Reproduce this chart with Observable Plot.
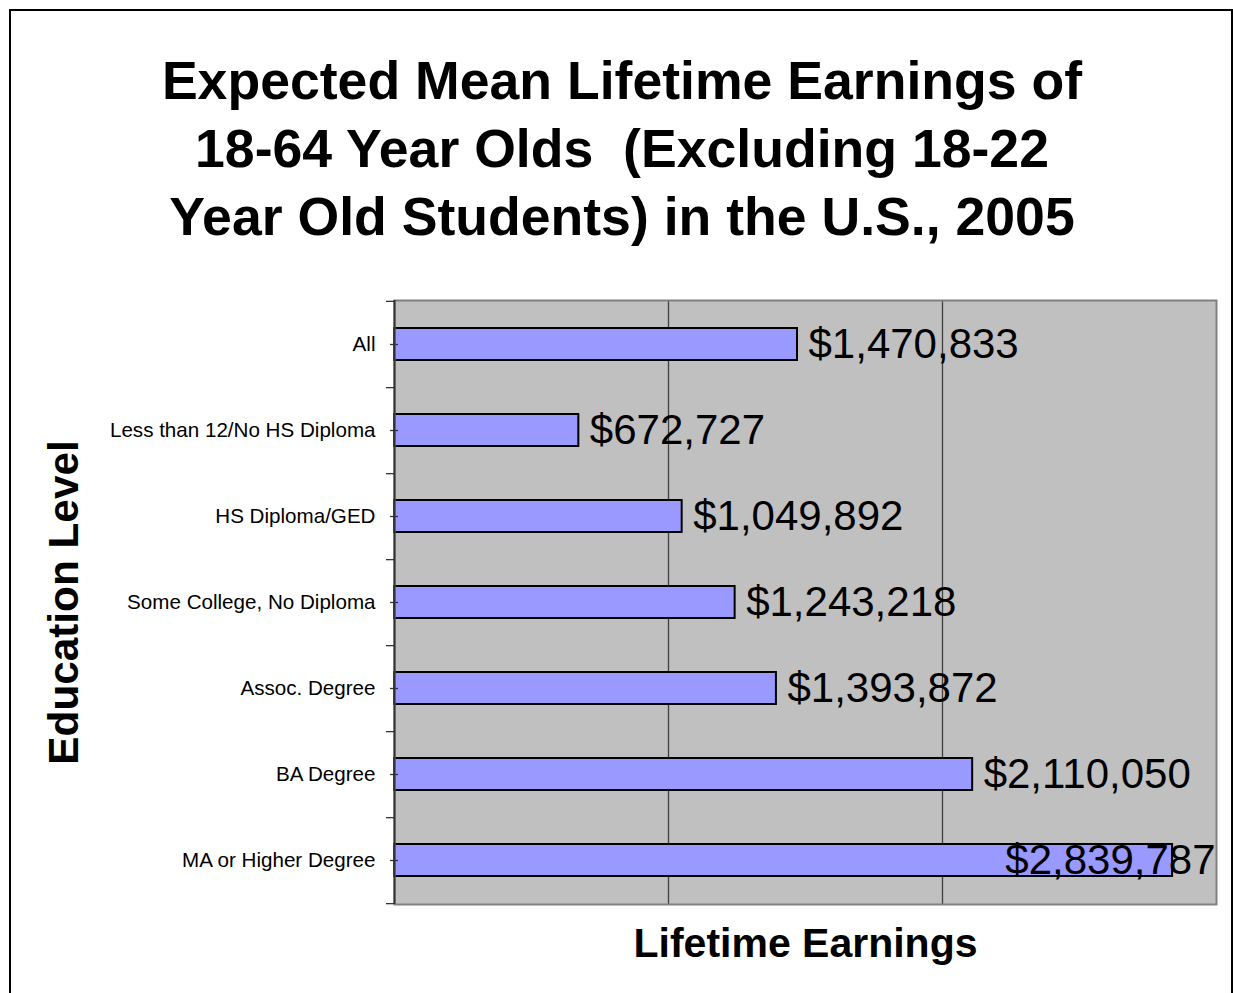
<!DOCTYPE html>
<html>
<head>
<meta charset="utf-8">
<script src="https://cdn.jsdelivr.net/npm/d3@7"></script>
<script src="https://cdn.jsdelivr.net/npm/@observablehq/plot@0.6"></script>
<style>
  html, body { margin: 0; padding: 0; background: #fff; overflow: hidden; }
  #wrap { position: relative; width: 1233px; height: 993px; }
  #border { position: absolute; left: 9px; top: 9px; width: 1220px; height: 1000px; border: 2px solid #000; }
  #title { position: absolute; left: 11px; top: 46px; width: 1222px; text-align: center;
    font-family: 'Liberation Sans', Arial, sans-serif; font-weight: bold; font-size: 53.6px;
    line-height: 68px; white-space: pre; color: #000; }
  #chart { position: absolute; left: 0; top: 0; }
</style>
</head>
<body>
<div id="wrap">
  <div id="chart"></div>
  <div id="border"></div>
  <div id="title">Expected Mean Lifetime Earnings of
18-64 Year Olds  (Excluding 18-22
Year Old Students) in the U.S., 2005</div>
</div>
<script>
const categories = ["All", "Less than 12/No HS Diploma", "HS Diploma/GED", "Some College, No Diploma", "Assoc. Degree", "BA Degree", "MA or Higher Degree"];
const earnings = [1470833, 672727, 1049892, 1243218, 1393872, 2110050, 2839787];
const gridValues = [1000000, 2000000];
const xDomain = [0, 3000000];
const xTitle = "Lifetime Earnings";
const yTitle = "Education Level";

const data = categories.map((c, i) => ({category: c, value: earnings[i]}));
const fmt = v => "$" + d3.format(",")(v);

const W = 1233, H = 993, mL = 394, mR = 17, mT = 300, mB = 89;
const halfStep = (H - mT - mB) / categories.length / 2;
const font = "'Liberation Sans', Arial, sans-serif";
const fitLimit = 2500000;

const chart = Plot.plot({
  width: W, height: H,
  marginLeft: mL, marginRight: mR, marginTop: mT, marginBottom: mB,
  style: {fontFamily: font, background: "transparent", overflow: "visible"},
  x: {domain: xDomain, axis: null},
  y: {domain: categories, axis: null, paddingInner: 0.63, paddingOuter: 0.315},
  marks: [
    Plot.frame({fill: "#c0c0c0"}),
    Plot.ruleX(gridValues, {stroke: "#404040", strokeWidth: 1.3}),
    Plot.barX(data, {x: "value", y: "category", fill: "#9999ff", stroke: "#000", strokeWidth: 2}),
    Plot.frame({stroke: "#808080", strokeWidth: 2}),
    Plot.ruleX([0], {stroke: "#333", strokeWidth: 2}),
    // tick marks at band boundaries (below each category, and above the first)
    Plot.ruleY(categories, {y: d => d, x1: () => xDomain[0], x2: () => xDomain[0], insetLeft: -8, dy: halfStep, stroke: "#333", strokeWidth: 1.3}),
    Plot.ruleY([categories[0]], {y: d => d, x1: () => xDomain[0], x2: () => xDomain[0], insetLeft: -8, dy: -halfStep, stroke: "#333", strokeWidth: 1.3}),
    // small cross ticks at category centres
    Plot.ruleY(categories, {y: d => d, x1: () => xDomain[0], x2: () => xDomain[0], insetLeft: -4, insetRight: -4, stroke: "#333", strokeWidth: 1.3}),
    Plot.text(categories, {y: d => d, frameAnchor: "left", dx: -19, text: d => d, textAnchor: "end", lineAnchor: "middle", fontSize: 20.6, fill: "#000"}),
    Plot.text(data.filter(d => d.value < fitLimit), {x: "value", y: "category", text: d => fmt(d.value),
      textAnchor: "start", dx: 11, fontSize: 42, fill: "#000", lineAnchor: "middle"}),
    Plot.text(data.filter(d => d.value >= fitLimit), {x: () => xDomain[1], y: "category", text: d => fmt(d.value),
      textAnchor: "end", dx: -1, fontSize: 42, fill: "#000", lineAnchor: "middle"}),
    Plot.text([xTitle], {frameAnchor: "bottom", dy: 39, text: d => d, fontSize: 41, fontWeight: "bold",
      textAnchor: "middle", lineAnchor: "middle", fill: "#000"}),
    Plot.text([yTitle], {frameAnchor: "left", dx: -330, rotate: -90, text: d => d, fontSize: 42.3, fontWeight: "bold",
      textAnchor: "middle", lineAnchor: "middle", fill: "#000"})
  ]
});
document.getElementById("chart").appendChild(chart);
</script>
</body>
</html>
